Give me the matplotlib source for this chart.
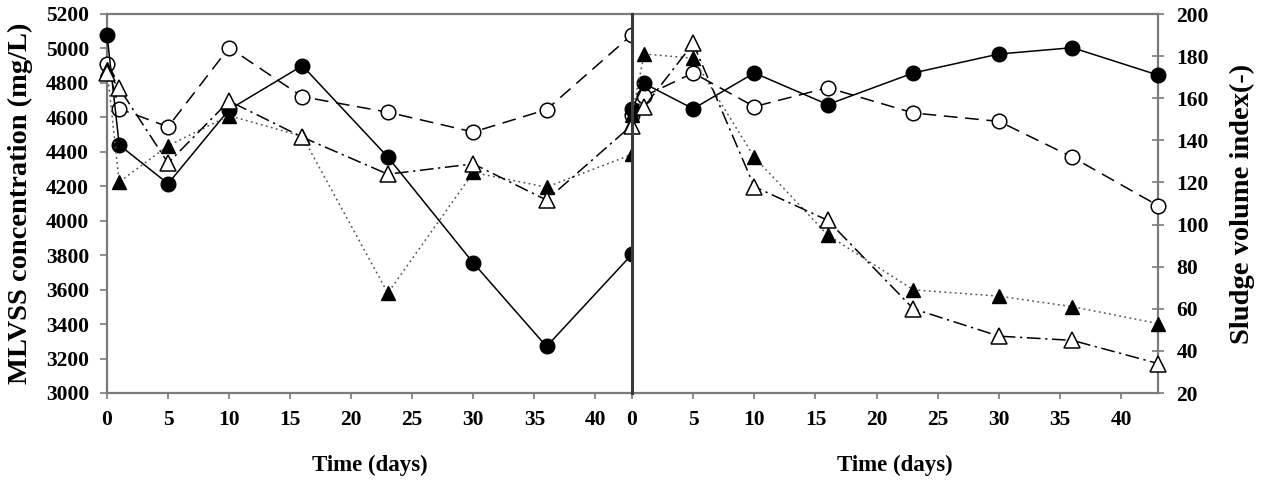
import matplotlib
matplotlib.use("Agg")
import matplotlib.pyplot as plt

plt.rcParams['font.family'] = ['Liberation Serif', 'DejaVu Serif']
plt.rcParams['font.weight'] = 'bold'

# sampling days (same for both panels)
days = [0, 1, 5, 10, 16, 23, 30, 36, 43]

# left panel: MLVSS (mg/L)
mlvss_fc = [5080, 4440, 4215, 4645, 4900, 4370, 3755, 3270, 3805]   # filled circle
mlvss_oc = [4910, 4650, 4545, 5005, 4720, 4630, 4515, 4645, 5080]   # open circle
mlvss_ft = [4880, 4225, 4435, 4610, 4490, 3580, 4280, 4195, 4385]   # filled triangle
mlvss_ot = [4860, 4770, 4335, 4695, 4485, 4270, 4330, 4120, 4555]   # open triangle

# right panel: SVI
svi_fc = [155, 167, 155, 172, 157, 172, 181, 184, 171]
svi_oc = [152, 161, 172, 156, 165, 153, 149, 132, 109]
svi_ft = [152, 181, 179, 132, 95, 69, 66, 61, 53]
svi_ot = [147, 156, 186, 118, 102, 60, 47, 45, 34]

xticks = [0, 5, 10, 15, 20, 25, 30, 35, 40]

fig = plt.figure(figsize=(12.67, 4.90), dpi=100)
axL = fig.add_axes([107/1267, 97/490, 525/1267, 379/490])
axR = fig.add_axes([632/1267, 97/490, 526/1267, 379/490])

ms = 10.5
frame = '#7a7a7a'


def draw(ax, fc, oc, ft, ot):
    ax.plot(days, fc, '-', color='black', lw=1.1, marker='o', ms=ms,
            mfc='black', mec='black', clip_on=False, zorder=4)
    ax.plot(days, oc, color='black', lw=1.1, dashes=(9, 5), marker='o', ms=ms,
            mfc='white', mec='black', mew=1.1, clip_on=False, zorder=3)
    ax.plot(days, ft, color='#555555', lw=1.1, dashes=(1.2, 2.2), marker='^', ms=ms,
            mfc='black', mec='black', clip_on=False, zorder=5)
    ax.plot(days, ot, color='black', lw=1.1, dashes=(9, 3, 1.5, 3), marker='^', ms=ms + 0.5,
            mfc='white', mec='black', mew=1.1, clip_on=False, zorder=6)
    ax.set_xlim(0, 43)
    ax.set_xticks(xticks)
    ax.set_xticklabels([str(t) for t in xticks])
    ax.tick_params(axis='x', direction='out', length=4, width=1.2, color=frame,
                   labelsize=15.5, pad=8.3)
    for s in ax.spines.values():
        s.set_color(frame)
        s.set_linewidth(1.6)
    ax.set_xlabel('Time (days)', fontsize=16.5, fontweight='bold', labelpad=18)


draw(axL, mlvss_fc, mlvss_oc, mlvss_ft, mlvss_ot)
axL.set_ylim(3000, 5200)
axL.set_yticks(range(3000, 5201, 200))
axL.tick_params(axis='y', direction='out', length=5, width=1.2, color=frame,
                labelsize=15.5, pad=8)
axL.set_ylabel('MLVSS concentration (mg/L)', fontsize=20.5, fontweight='bold', labelpad=9)
axL.spines['right'].set_visible(False)

draw(axR, svi_fc, svi_oc, svi_ft, svi_ot)
axR.set_ylim(20, 200)
axR.set_yticks(range(20, 201, 20))
axR.yaxis.tick_right()
axR.yaxis.set_label_position('right')
axR.tick_params(axis='y', which='both', left=False, right=True, direction='inout',
                length=8, width=1.2, color=frame, labelsize=15.5, pad=9.4)
axR.set_ylabel('Sludge volume index(-)', fontsize=20.5, fontweight='bold', labelpad=15)
axR.spines['left'].set_color('#3a3a3a')
axR.spines['left'].set_linewidth(2.2)
axR.spines['left'].set_zorder(10)

fig.savefig('out.png', dpi=100)
